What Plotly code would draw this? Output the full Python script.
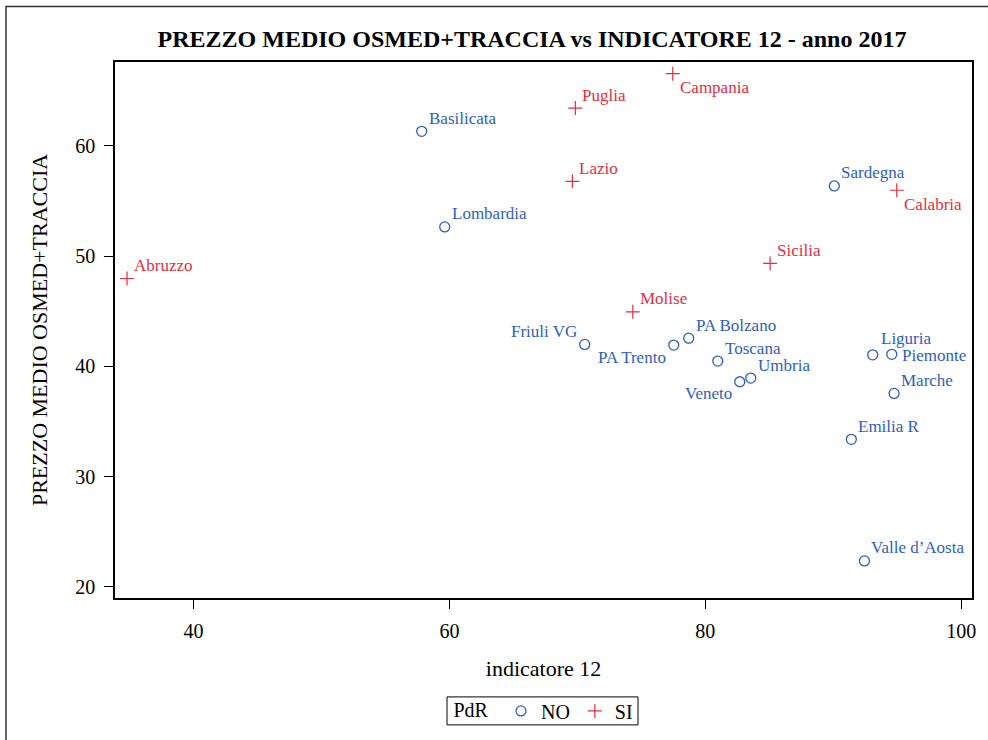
import plotly.graph_objects as go

# Regional values: indicatore 12 (x) vs prezzo medio OsMed+Traccia (y)
regioni_no = ["Basilicata", "Lombardia", "Friuli VG", "PA Trento", "PA Bolzano",
              "Toscana", "Umbria", "Veneto", "Sardegna", "Liguria", "Piemonte",
              "Marche", "Emilia R", "Valle d\u2019Aosta"]
ind12_no = [57.83, 59.63, 70.57, 77.53, 78.70, 80.97, 83.55, 82.69, 90.08,
            93.08, 94.57, 94.75, 91.41, 92.43]
prezzo_no = [61.31, 52.65, 41.99, 41.93, 42.56, 40.48, 38.94, 38.61, 56.36,
             41.05, 41.09, 37.55, 33.39, 22.36]

regioni_si = ["Abruzzo", "Puglia", "Campania", "Lazio", "Molise", "Sicilia", "Calabria"]
ind12_si = [34.80, 69.84, 77.45, 69.61, 74.33, 85.06, 94.96]
prezzo_si = [47.97, 63.42, 66.54, 56.78, 44.95, 49.34, 55.97]

x_ticks = [40, 60, 80, 100]
y_ticks = [20, 30, 40, 50, 60]

# label placement around each marker
pos_no = ["ur", "ur", "ul", "ll", "ur", "ur", "ur", "ll", "ur", "uR", "r", "ur", "ur", "ur"]
pos_si = ["ur", "ur", "lr", "ur", "ur", "ur", "lr"]

BLUE = "#2F5FB5"
RED = "#E0303F"
FONT = "Liberation Serif"

OFFSETS = {
    "ur": dict(xanchor="left", yanchor="middle", xshift=5, yshift=13),
    "uR": dict(xanchor="left", yanchor="middle", xshift=6, yshift=16),
    "lr": dict(xanchor="left", yanchor="middle", xshift=5, yshift=-14),
    "ul": dict(xanchor="right", yanchor="middle", xshift=-6, yshift=13),
    "ll": dict(xanchor="right", yanchor="middle", xshift=-6, yshift=-12),
    "r": dict(xanchor="left", yanchor="middle", xshift=8, yshift=-1),
}

fig = go.Figure()
fig.add_trace(go.Scatter(
    x=ind12_no, y=prezzo_no, mode="markers", name="NO",
    marker=dict(symbol="circle-open", size=10, color=BLUE, line=dict(width=1.3, color=BLUE)),
))
fig.add_trace(go.Scatter(
    x=ind12_si, y=prezzo_si, mode="markers", name="SI",
    marker=dict(symbol="cross-thin-open", size=10, color=RED, line=dict(width=1.2, color=RED)),
))

annotations = []
for names, xs, ys, poss, col in [(regioni_no, ind12_no, prezzo_no, pos_no, BLUE),
                                 (regioni_si, ind12_si, prezzo_si, pos_si, RED)]:
    for n, xv, yv, p in zip(names, xs, ys, poss):
        annotations.append(dict(x=xv, y=yv, xref="x", yref="y", text=n, showarrow=False,
                                font=dict(family=FONT, size=17, color=col), **OFFSETS[p]))

# plot area in pixels: left 115, right 972, top 61.5, bottom 598
PW, PH = 857, 536.5


def px_x(v):
    return (v - 115) / PW


def px_y(v):
    return (598 - v) / PH


fig.update_layout(
    width=988, height=740,
    margin=dict(l=115, r=16, t=61.5, b=142, autoexpand=False),
    paper_bgcolor="white", plot_bgcolor="white",
    font=dict(family=FONT, color="black"),
    title=dict(text="<b>PREZZO MEDIO OSMED+TRACCIA vs INDICATORE 12 - anno 2017</b>",
               x=532 / 988, xanchor="center", y=1 - 39 / 740, yanchor="middle",
               font=dict(family=FONT, size=24, color="black")),
    xaxis=dict(range=[33.86, 100.84], tickvals=x_ticks, showgrid=False, zeroline=False,
               showline=True, mirror=True, linecolor="black", linewidth=1.5,
               ticks="outside", ticklen=9, tickwidth=1.2, tickcolor="black",
               ticklabelstandoff=5, tickfont=dict(family=FONT, size=20),
               title=dict(text="indicatore 12", font=dict(family=FONT, size=22), standoff=20)),
    yaxis=dict(range=[19.0, 67.6], tickvals=y_ticks, showgrid=False, zeroline=False,
               showline=True, mirror=True, linecolor="black", linewidth=1.5,
               ticks="outside", ticklen=9, tickwidth=1.2, tickcolor="black",
               ticklabelstandoff=5, tickfont=dict(family=FONT, size=20),
               title=dict(text="PREZZO MEDIO OSMED+TRACCIA", font=dict(family=FONT, size=22),
                          standoff=22)),
    legend=dict(orientation="h", x=px_x(545), xanchor="center", y=px_y(711), yanchor="middle",
                borderwidth=0, bgcolor="rgba(0,0,0,0)",
                title=dict(text="PdR ", font=dict(family=FONT, size=20)),
                font=dict(family=FONT, size=20), itemwidth=30),
    annotations=annotations,
    shapes=[
        # outer figure frame
        dict(type="rect", xref="paper", yref="paper",
             x0=px_x(6), x1=1.3, y0=-0.5, y1=px_y(6),
             line=dict(color="#333333", width=1.5), fillcolor="rgba(0,0,0,0)", layer="below"),
        # legend frame
        dict(type="rect", xref="paper", yref="paper",
             x0=px_x(447), x1=px_x(638), y0=px_y(725), y1=px_y(697),
             line=dict(color="black", width=1), fillcolor="white", layer="below"),
    ],
)

fig.write_html("out.html", config={"displayModeBar": False})
